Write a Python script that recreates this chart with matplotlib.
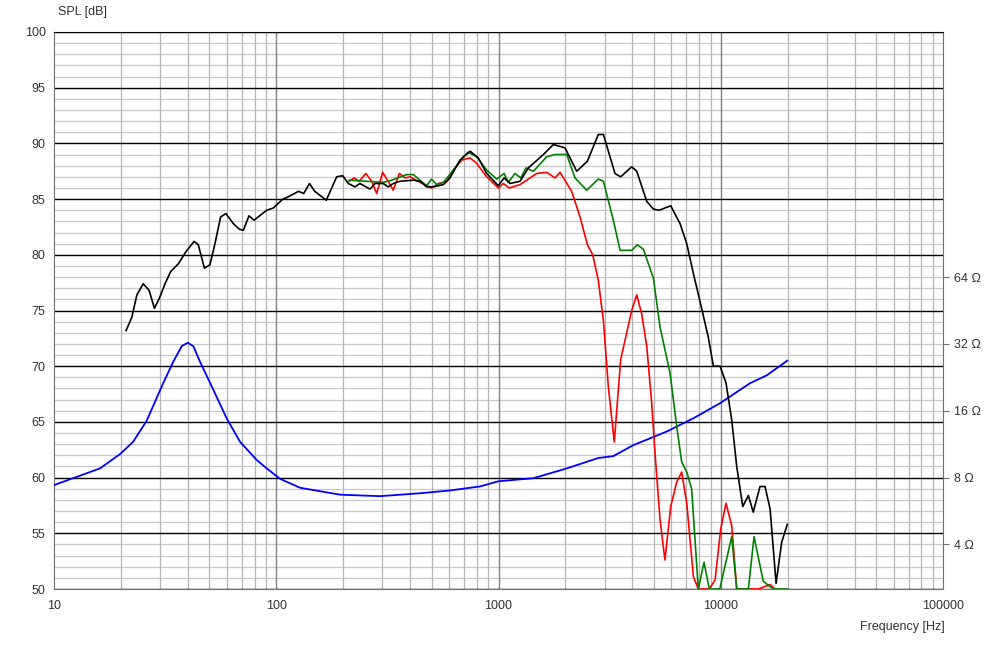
import matplotlib
matplotlib.use('Agg')
import numpy as np
import matplotlib.pyplot as plt
from matplotlib.ticker import FixedLocator, NullFormatter, NullLocator

plt.rcParams['font.family'] = ['Liberation Sans', 'DejaVu Sans']

# on axis SPL (black)
f_0 = [21.1, 22.4, 23.6, 25.2, 26.8, 28.3, 29.8, 31.6, 33.5, 36.3, 39.3, 42.7, 44.6, 47.5,
       50.3, 53.0, 56.2, 59.4, 64.1, 68.2, 71.1, 75.4, 79.4, 90.6, 97, 107, 113, 126, 133,
       141, 149, 168, 187, 199, 211, 226, 238, 264, 278, 303, 319, 336, 360, 414, 443, 475,
       509, 565, 605, 671, 745, 811, 885, 998, 1060, 1127, 1250, 1362, 1592, 1765, 1991,
       2249, 2512, 2812, 2965, 3343, 3546, 3975, 4188, 4645, 4977, 5288, 5953, 6561, 7031,
       7534, 8070, 8790, 9264, 9926, 10560, 11200, 11800, 12560, 13310, 14000, 15020,
       15820, 16670, 17740, 18800, 19920]
spl_0 = [73.2, 74.4, 76.4, 77.4, 76.8, 75.2, 76.1, 77.4, 78.5, 79.2, 80.3, 81.2, 80.9, 78.8,
         79.1, 81.0, 83.4, 83.7, 82.8, 82.3, 82.2, 83.5, 83.1, 84.0, 84.2, 85.0, 85.2, 85.7,
         85.5, 86.4, 85.7, 84.9, 87.0, 87.1, 86.4, 86.1, 86.4, 85.9, 86.4, 86.4, 86.1, 86.4,
         86.6, 86.7, 86.6, 86.1, 86.1, 86.3, 86.9, 88.5, 89.3, 88.7, 87.3, 86.2, 86.9, 86.4,
         86.6, 87.8, 89.0, 89.9, 89.6, 87.5, 88.4, 90.8, 90.8, 87.3, 87.0, 87.9, 87.5, 84.8,
         84.1, 84.0, 84.4, 82.8, 81.0, 78.3, 75.8, 72.6, 70.0, 70.0, 68.5, 65.2, 61.0, 57.4,
         58.4, 56.9, 59.2, 59.2, 57.2, 50.5, 54.2, 55.8]

# 30 deg off axis (green)
f_30 = [213, 255, 303, 331, 386, 414, 443, 475, 500, 527, 565, 626, 695, 731, 798, 885, 982,
        1059, 1107, 1186, 1259, 1330, 1435, 1648, 1795, 2028, 2209, 2494, 2812, 2965, 3287,
        3524, 3975, 4214, 4486, 4977, 5333, 5911, 6338, 6672, 7031, 7396, 7925, 8410, 8880,
        9900, 11200, 11800, 13310, 14120, 15530, 16670, 17500, 19920]
spl_30 = [86.7, 86.6, 86.5, 86.7, 87.2, 87.2, 86.7, 86.2, 86.8, 86.3, 86.5, 87.6, 88.8, 89.2,
          88.8, 87.6, 86.8, 87.3, 86.5, 87.3, 86.9, 87.8, 87.5, 88.8, 89.0, 89.0, 86.9, 85.8,
          86.8, 86.6, 83.1, 80.4, 80.4, 80.9, 80.5, 77.9, 73.5, 69.4, 64.6, 61.4, 60.5, 59.0,
          50.0, 52.4, 50.0, 50.0, 54.7, 50.0, 50.0, 54.7, 50.7, 50.2, 50.0, 50.0]

# 60 deg off axis (red)
f_60 = [213, 224, 236, 253, 269, 283, 301, 319, 336, 358, 380, 400, 425, 467, 500, 536, 585,
        626, 683, 745, 798, 885, 998, 1051, 1118, 1250, 1340, 1485, 1648, 1795, 1892, 2134,
        2327, 2512, 2655, 2812, 2965, 3119, 3319, 3546, 3775, 3975, 4188, 4409, 4645, 4890,
        5061, 5333, 5610, 5953, 6338, 6672, 7031, 7534, 7925, 8880, 9425, 10000, 10560,
        11200, 11800, 14760, 16670, 17500]
spl_60 = [86.6, 86.9, 86.6, 87.3, 86.6, 85.5, 87.4, 86.6, 85.8, 87.3, 86.9, 87.0, 86.7, 86.3,
          86.0, 86.4, 86.6, 87.6, 88.5, 88.7, 88.2, 87.0, 86.0, 86.4, 86.0, 86.3, 86.7, 87.3,
          87.4, 86.9, 87.4, 85.7, 83.4, 80.9, 80.0, 77.7, 74.1, 68.2, 63.2, 70.6, 73.0, 75.0,
          76.4, 74.7, 71.8, 66.7, 62.2, 56.2, 52.6, 57.4, 59.6, 60.5, 57.7, 51.1, 50.0, 50.0,
          50.8, 55.4, 57.7, 55.7, 50.0, 50.0, 50.4, 50.0]

# impedance (blue), ohms
f_z = [10, 16.1, 19.8, 22.7, 26.1, 31.0, 34.4, 37.6, 40.0, 42.4, 45.4, 52.1, 59.8, 68.7, 81.7,
       90.6, 104, 128, 194, 293, 443, 605, 826, 998, 1435, 2028, 2812, 3287, 4043, 5713,
       7534, 9926, 13550, 16100, 19920]
z_ohm = [7.4, 8.8, 10.2, 11.6, 14.4, 21.3, 26.6, 31.3, 32.4, 31.2, 26.6, 19.9, 14.8, 11.6,
         9.6, 8.8, 7.9, 7.2, 6.7, 6.6, 6.8, 7.0, 7.3, 7.7, 7.95, 8.8, 9.8, 10.0, 11.2, 12.9,
         14.8, 17.3, 21.3, 23.1, 26.9]

z_ticks = [4, 8, 16, 32, 64]
x_ticks = [10, 100, 1000, 10000, 100000]

fig = plt.figure(figsize=(10.06, 6.45), dpi=100)
ax = fig.add_axes([54 / 1006, 56 / 645, 889 / 1006, 557 / 645])
ax.set_xscale('log')
ax.set_xlim(10, 100000)
ax.set_ylim(50, 100)

# grid
for v in range(51, 100):
    if v % 5:
        ax.axhline(v, color='#c8c8c8', lw=0.9, zorder=1)
for v in range(50, 101, 5):
    ax.axhline(v, color='black', lw=1.0, zorder=1.5)
for dec in [10, 100, 1000, 10000]:
    for m in range(2, 10):
        ax.axvline(dec * m, color='#b4b4b4', lw=0.9, zorder=1)
for dec in [100, 1000, 10000]:
    ax.axvline(dec, color='#808080', lw=1.0, zorder=1.2)

ax.plot(f_z, [60 + 6 * np.log2(z / 8) for z in z_ohm], color='#0000ff', lw=1.3, zorder=3)
ax.plot(f_60, spl_60, color='#ff0000', lw=1.2, zorder=4)
ax.plot(f_30, spl_30, color='#008000', lw=1.2, zorder=5)
ax.plot(f_0, spl_0, color='black', lw=1.2, zorder=6)

ax.xaxis.set_major_locator(FixedLocator(x_ticks))
ax.set_xticklabels([str(t) for t in x_ticks])
ax.xaxis.set_minor_locator(NullLocator())
ax.xaxis.set_minor_formatter(NullFormatter())
ax.set_yticks(range(50, 101, 5))
ax.tick_params(axis='both', length=0, labelsize=9, colors='#333333')
ax.tick_params(axis='x', pad=8)
ax.tick_params(axis='y', pad=6)
for s in ['left', 'bottom', 'right']:
    ax.spines[s].set_color('#707070')
ax.spines['top'].set_color('black')

# impedance axis on the right
ax2 = ax.twinx()
ax2.set_yscale('log')
ax2.set_ylim(8 * 2 ** (-10 / 6), 8 * 2 ** (40 / 6))
ax2.yaxis.set_major_locator(FixedLocator(z_ticks))
ax2.set_yticklabels(['%d \u03a9' % z for z in z_ticks])
ax2.yaxis.set_minor_locator(NullLocator())
ax2.yaxis.set_minor_formatter(NullFormatter())
ax2.tick_params(axis='y', length=4, width=0.8, color='#707070', labelsize=9,
                labelcolor='#333333', pad=4)
for s in ax2.spines.values():
    s.set_visible(False)

fig.text(58 / 1006, 1 - 12 / 645, 'SPL [dB]', fontsize=9, color='#333333', va='center')
fig.text(945 / 1006, 1 - 627 / 645, 'Frequency [Hz]', fontsize=9, color='#333333',
         va='center', ha='right')

fig.savefig('out.png', dpi=100)
